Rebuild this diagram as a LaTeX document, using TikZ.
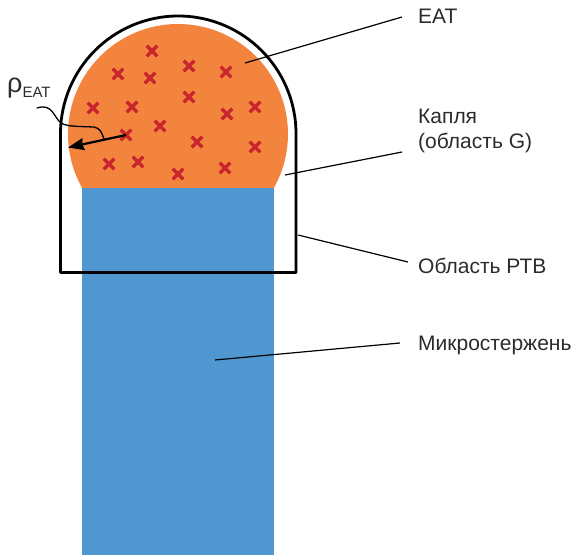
\documentclass[tikz,border=0pt]{standalone}
\usepackage{fontspec}
\setmainfont{Liberation Sans}
\usetikzlibrary{arrows.meta,shapes.misc}
\definecolor{dropcol}{HTML}{F3843E}
\definecolor{rodcol}{HTML}{5097D2}
\definecolor{markcol}{HTML}{C9252C}
\definecolor{textcol}{HTML}{2B2B2B}
\begin{document}
\begin{tikzpicture}[x=1pt, y=-1pt,
    lbl/.style={anchor=base west, inner sep=0pt, text=textcol, font=\fontsize{21}{25}\selectfont},
    leader/.style={draw=black, line width=1.2pt},
    xmark/.style={cross out, draw=markcol, line width=3.2pt, minimum size=7.5pt, inner sep=0pt}]
\useasboundingbox (0,0) rectangle (584,555);
% drop (region G), cut by the rod top
\begin{scope}
  \clip (0,0) rectangle (584,188);
  \fill[dropcol] (178,134) circle (110);
\end{scope}
% microrod
\fill[rodcol] (82,188) rectangle (274,555);
% RTB region
\draw[line width=2.8pt, line join=round] (60.5,133.75) arc (180:360:117.75) -- (296,272.5) -- (60.5,272.5) -- cycle;
% EAT marks
\foreach \x/\y [count=\i] in {152/51, 118/74, 150/78, 189/66, 226/72, 189/97, 93/108, 132/107, 227/114,
    255/107, 160/126, 126/135, 197/142, 255/147, 109/164, 138/162, 178/174, 225/168} {
    \node[xmark] (m\i) at (\x,\y) {};
}
% rho arrow
\coordinate (tip) at (68,147.5);
\coordinate (kink) at (104,139);
\draw[line width=2.2pt, -{Stealth[length=16pt, width=12pt, inset=1.5pt]}] (m12.center) -- (tip);
\draw[line width=1.3pt, line cap=round] (37,108) .. controls (52,103) and (54,117) .. (60,122)
    .. controls (64,126) and (72,126) .. (80,126.5) -- (94,127) .. controls (100,128) and (102,133) .. (kink);
\node[anchor=base west, inner sep=0pt, text=textcol] (rho) at (7,92) {\fontsize{27}{27}\selectfont ρ\raisebox{-5pt}{\fontsize{15}{15}\selectfont EAT}};
% labels
\node[lbl] (eat) at (418,23.5) {EAT};
\node[lbl, align=left] (drop) at (418,148) {Капля\\(область G)};
\node[lbl] (rtb) at (418,273) {Область РТВ};
\node[lbl] (rod) at (418,350) {Микростержень};
% leader lines
\coordinate (peat) at (245,63);
\coordinate (pdrop) at (285,175);
\coordinate (prtb) at (298,235);
\coordinate (prod) at (215,360);
\draw[leader] (peat) -- ([xshift=-16pt, yshift=6.5pt]eat.base west);
\draw[leader] (pdrop) -- ([xshift=-16pt, yshift=-4pt]drop.base west);
\draw[leader] (prtb) -- ([xshift=-10pt, yshift=11pt]rtb.base west);
\draw[leader] (prod) -- ([xshift=-18pt, yshift=7pt]rod.base west);
\end{tikzpicture}
\end{document}
